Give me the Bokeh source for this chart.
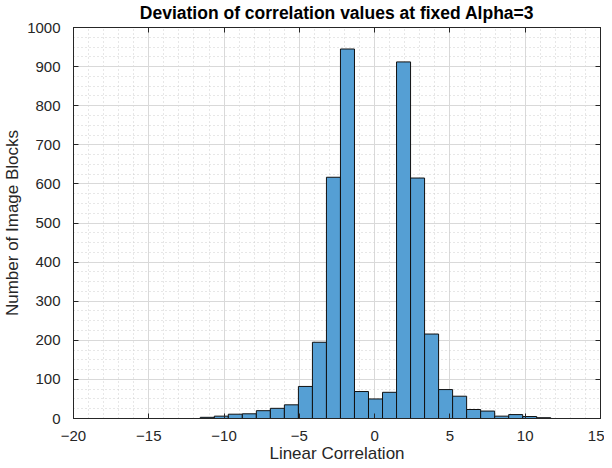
from bokeh.plotting import figure
from bokeh.models import FixedTicker, LinearAxis, Range1d
from bokeh.embed import file_html
from bokeh.resources import INLINE
import numpy as np

# ---- data ----
title_text = "Deviation of correlation values at fixed Alpha=3"
x_label = "Linear Correlation"
y_label = "Number of Image Blocks"
bin_start = -11.58
bin_width = 0.931
counts = [3, 6, 11, 12, 20, 26, 35, 82, 195, 617, 945, 69, 50,
          67, 912, 615, 216, 74, 57, 23, 19, 6, 10, 5, 2]
x_ticks = [-20, -15, -10, -5, 0, 5, 10, 15]
x_minor = list(range(-20, 16))
y_ticks = list(range(0, 1001, 100))
y_minor = list(range(0, 1001, 25))

left = bin_start + bin_width * np.arange(len(counts))
right = left + bin_width

FONT = "Liberation Sans"
AX = "#262626"

p = figure(width=604, height=465,
           x_range=Range1d(-20, 15), y_range=Range1d(0, 1000),
           output_backend="svg", toolbar_location=None,
           min_border_left=66, min_border_right=2,
           min_border_top=26, min_border_bottom=46,
           background_fill_color="white", border_fill_color="white")
p.outline_line_color = AX

p.title.text = title_text
p.title.align = "center"
p.title.text_font = FONT
p.title.text_font_size = "17.5px"
p.title.text_font_style = "bold"
p.title.text_color = "#000000"
p.title.standoff = 1

xt = FixedTicker(ticks=x_ticks, minor_ticks=x_minor)
yt = FixedTicker(ticks=y_ticks, minor_ticks=y_minor)

p.quad(left=left, right=right, bottom=0, top=counts,
       fill_color="#559fd4", line_color="#111111", line_width=1)

for ax, t in ((p.xaxis[0], xt), (p.yaxis[0], yt)):
    ax.ticker = t
    ax.major_tick_in = 5
    ax.major_tick_out = 0
    ax.minor_tick_line_color = None
    ax.axis_line_color = AX
    ax.major_tick_line_color = AX
    ax.major_label_text_font = FONT
    ax.major_label_text_font_size = "15px"
    ax.major_label_text_color = AX
    ax.axis_label_text_font = FONT
    ax.axis_label_text_font_size = "17px"
    ax.axis_label_text_font_style = "normal"
    ax.axis_label_text_color = AX

p.xaxis[0].axis_label = x_label
p.yaxis[0].axis_label = y_label
p.xaxis[0].major_label_standoff = 8
p.xaxis[0].axis_label_standoff = 0
p.yaxis[0].major_label_standoff = 9
p.yaxis[0].axis_label_standoff = 2

for loc, t, tk in (("above", xt, x_ticks), ("right", yt, y_ticks)):
    a = LinearAxis(ticker=t, major_tick_in=5, major_tick_out=0,
                   minor_tick_line_color=None, axis_line_color=AX,
                   major_tick_line_color=AX,
                   major_label_overrides={v: "" for v in tk},
                   major_label_text_font_size="0px",
                   major_label_standoff=0)
    p.add_layout(a, loc)

for g, t in ((p.xgrid[0], xt), (p.ygrid[0], yt)):
    g.ticker = t
    g.grid_line_color = "#d9d9d9"
    g.grid_line_width = 1
    g.minor_grid_line_color = "#cfcfcf"
    g.minor_grid_line_dash = "1 3"
    g.minor_grid_line_width = 1

open("out.html", "w").write(file_html(p, INLINE))
